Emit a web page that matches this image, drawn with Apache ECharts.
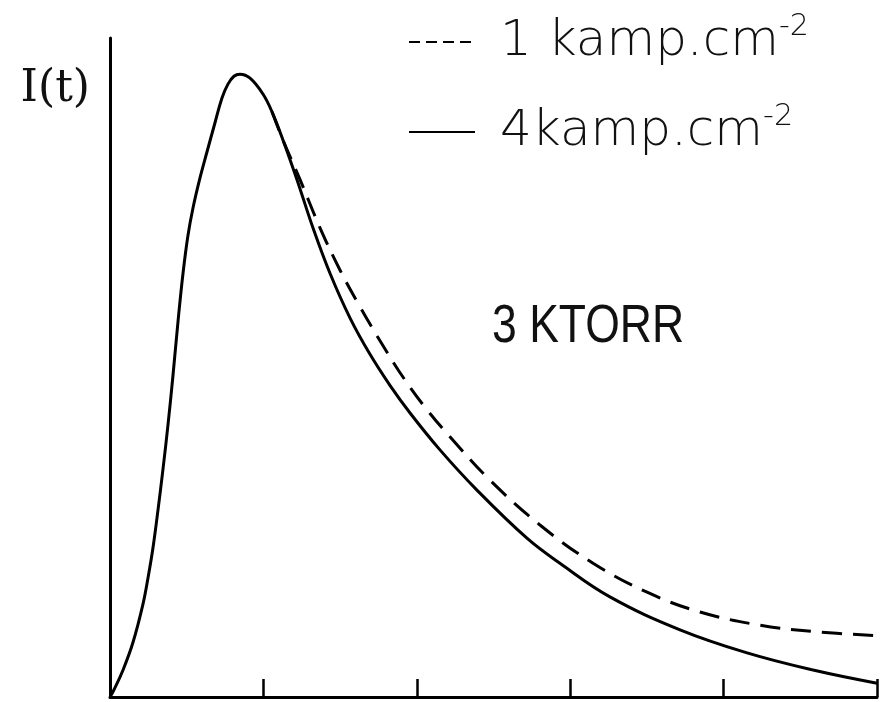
<!DOCTYPE html>
<html>
<head>
<meta charset="utf-8">
<title>I(t) 3 KTORR</title>
<script src="https://cdn.jsdelivr.net/npm/echarts@6/dist/echarts.min.js"></script>
<style>
  html, body { margin: 0; padding: 0; background: #fff; }
  #chart { width: 881px; height: 702px; }
</style>
</head>
<body>
<div id="chart"></div>
<script>
// values (t in tick units, I in % of axis height)
const tSolid = [0, 0.026, 0.085, 0.15, 0.215, 0.248, 0.28, 0.313, 0.346, 0.378, 0.411, 0.443, 0.476, 0.508, 0.541, 0.587, 0.632, 0.684, 0.73, 0.769, 0.808, 0.847, 0.913, 0.997, 1.056, 1.128, 1.219, 1.323, 1.434, 1.565, 1.695, 1.825, 1.956, 2.151, 2.392, 2.718, 2.933, 3.259, 3.716, 4.153, 4.583, 5.0]
const iSolid = [0, 1.1, 4.1, 8.3, 14.1, 18.1, 22.6, 28.4, 34.7, 41.3, 48.9, 56.9, 64.3, 70.0, 74.2, 78.8, 82.7, 87.1, 90.9, 93.0, 94.2, 94.5, 93.9, 91.5, 88.8, 84.5, 78.5, 71.2, 64.3, 57.5, 52.0, 47.3, 43.1, 37.5, 31.4, 24.1, 20.3, 15.2, 10.2, 6.7, 4.1, 2.1]

const tDashed = [1.056, 1.128, 1.239, 1.369, 1.499, 1.63, 1.78, 1.923, 2.066, 2.216, 2.477, 2.803, 3.149, 3.501, 3.846, 4.237, 4.609, 5.0]
const iDashed = [88.8, 84.5, 78.5, 71.2, 64.8, 59.2, 53.3, 48.1, 43.6, 39.5, 32.9, 26.1, 20.3, 15.9, 12.9, 10.9, 9.9, 9.3]

const xTicks = [0, 1, 2, 3, 4, 5]
const seriesNames = ['1 kamp.cm-2', '4kamp.cm-2']

const zip = (xs, ys) => xs.map((x, i) => [x, ys[i]])

const chart = echarts.init(document.getElementById('chart'))

const option = {
  backgroundColor: '#fff',
  animation: false,
  grid: { left: 110, right: 4, top: 38, bottom: 5 },
  legend: {
    orient: 'vertical',
    left: 408,
    top: 12,
    padding: 0,
    itemWidth: 66,
    itemHeight: 14,
    itemGap: 35,
    selectedMode: false,
    itemStyle: { opacity: 0 },
    data: [
      { name: seriesNames[0], lineStyle: { type: [11, 6] } },
      { name: seriesNames[1] }
    ],
    formatter: name => '{n|' + name.replace('-2', '') + '}{s|-2}',
    textStyle: {
      color: '#111',
      rich: {
        n: { fontFamily: 'DejaVu Sans', fontWeight: 200, fontSize: 50, lineHeight: 60, padding: [0, 0, 0, 20], color: '#111' },
        s: { fontFamily: 'DejaVu Sans', fontWeight: 200, fontSize: 30, lineHeight: 30, verticalAlign: 'top', color: '#111' }
      }
    }
  },
  xAxis: {
    type: 'value',
    min: xTicks[0],
    max: xTicks[xTicks.length - 1],
    interval: 1,
    axisLine: { show: true, lineStyle: { color: '#000', width: 3 } },
    axisTick: { show: true, inside: true, length: 18, lineStyle: { color: '#000', width: 2.5 } },
    axisLabel: { show: false },
    splitLine: { show: false }
  },
  yAxis: {
    type: 'value',
    min: 0,
    max: 100,
    name: 'I(t)',
    nameLocation: 'end',
    nameGap: -52,
    nameTextStyle: {
      fontFamily: 'DejaVu Serif',
      fontSize: 44,
      color: '#111',
      align: 'right',
      verticalAlign: 'middle',
      padding: [0, 20, 0, 0]
    },
    axisLine: { show: true, lineStyle: { color: '#000', width: 3 } },
    axisTick: { show: false },
    axisLabel: { show: false },
    splitLine: { show: false }
  },
  graphic: [
    {
      type: 'text',
      x: 492,
      y: 327,
      scaleX: 0.84,
      style: {
        text: '3 KTORR',
        fontFamily: 'Liberation Sans',
        fontSize: 53,
        fill: '#111',
        align: 'left',
        verticalAlign: 'middle'
      }
    }
  ],
  series: [
    {
      name: seriesNames[0],
      type: 'line',
      smooth: 0.4,
      symbol: 'none',
      data: zip(tDashed, iDashed),
      lineStyle: { color: '#000', width: 3, type: [20, 11] },
      itemStyle: { color: '#000' }
    },
    {
      name: seriesNames[1],
      type: 'line',
      smooth: 0.4,
      symbol: 'none',
      data: zip(tSolid, iSolid),
      lineStyle: { color: '#000', width: 3 },
      itemStyle: { color: '#000' }
    }
  ]
}

chart.setOption(option)
</script>
</body>
</html>
